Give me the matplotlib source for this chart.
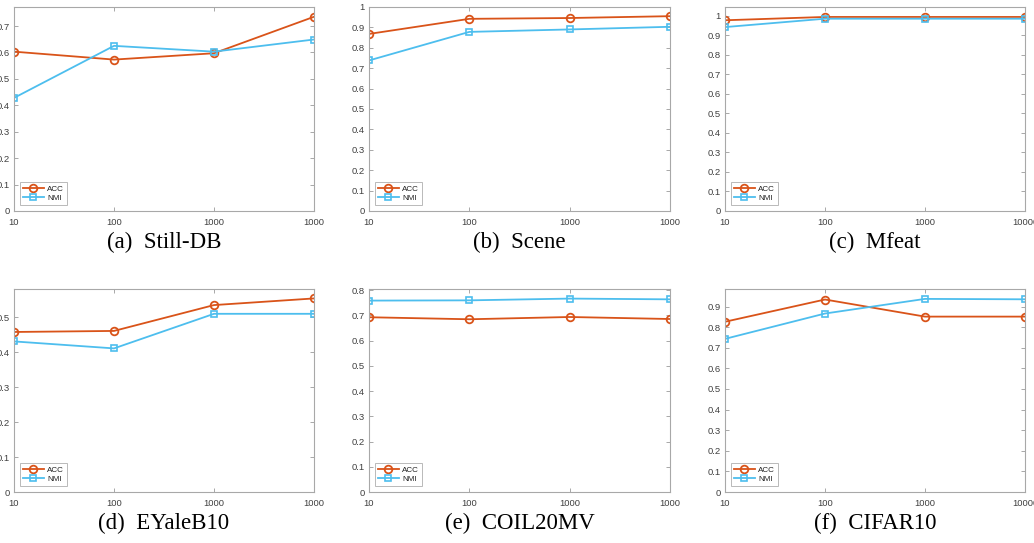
import matplotlib
matplotlib.use("Agg")
import matplotlib.pyplot as plt
from matplotlib.ticker import FixedLocator, FixedFormatter, NullLocator

# ---- data ----
x_values = [10, 100, 1000, 10000]
captions = ["(a)  Still-DB", "(b)  Scene", "(c)  Mfeat",
            "(d)  EYaleB10", "(e)  COIL20MV", "(f)  CIFAR10"]
xlabels_short = ["10", "100", "1000", "1000"]
xlabels_full = ["10", "100", "1000", "10000"]

acc_still = [0.603, 0.573, 0.597, 0.735]
nmi_still = [0.428, 0.625, 0.603, 0.649]
acc_scene = [0.868, 0.942, 0.946, 0.955]
nmi_scene = [0.738, 0.878, 0.890, 0.903]
acc_mfeat = [0.978, 0.995, 0.995, 0.995]
nmi_mfeat = [0.943, 0.986, 0.986, 0.986]
acc_eyale = [0.458, 0.461, 0.535, 0.554]
nmi_eyale = [0.431, 0.411, 0.510, 0.510]
acc_coil = [0.693, 0.685, 0.694, 0.686]
nmi_coil = [0.759, 0.760, 0.767, 0.764]
acc_cifar = [0.826, 0.934, 0.851, 0.851]
nmi_cifar = [0.743, 0.866, 0.937, 0.935]

ylims = [(0, 0.772), (0, 1.0), (0, 1.046), (0, 0.581), (0, 0.805), (0, 0.985)]
yticks = [
    [0, 0.1, 0.2, 0.3, 0.4, 0.5, 0.6, 0.7],
    [0, 0.1, 0.2, 0.3, 0.4, 0.5, 0.6, 0.7, 0.8, 0.9, 1.0],
    [0, 0.1, 0.2, 0.3, 0.4, 0.5, 0.6, 0.7, 0.8, 0.9, 1.0],
    [0, 0.1, 0.2, 0.3, 0.4, 0.5],
    [0, 0.1, 0.2, 0.3, 0.4, 0.5, 0.6, 0.7, 0.8],
    [0, 0.1, 0.2, 0.3, 0.4, 0.5, 0.6, 0.7, 0.8, 0.9],
]
accs = [acc_still, acc_scene, acc_mfeat, acc_eyale, acc_coil, acc_cifar]
nmis = [nmi_still, nmi_scene, nmi_mfeat, nmi_eyale, nmi_coil, nmi_cifar]
xlabel_sets = [xlabels_short, xlabels_short, xlabels_full,
               xlabels_short, xlabels_short, xlabels_full]

ACC_C = "#D95319"
NMI_C = "#4DBEEE"
SPINE_C = "#a8a8a8"
TICK_C = "#404040"

W, H = 1034, 543
fig = plt.figure(figsize=(W / 100, H / 100), dpi=100)

lefts = [14, 369, 725]
rights = [314, 670, 1025]
rows = [(7, 211), (289, 492)]

def fmt(v):
    if v == 0:
        return "0"
    if abs(v - 1.0) < 1e-9:
        return "1"
    return f"{v:.1f}"

for i in range(6):
    r, c = divmod(i, 3)
    top, bot = rows[r]
    ax = fig.add_axes([lefts[c] / W, 1 - bot / H, (rights[c] - lefts[c]) / W, (bot - top) / H])
    ax.set_xscale("log")
    ax.plot(x_values, accs[i], color=ACC_C, lw=1.3, marker="o", ms=5.5,
            mfc="none", mec=ACC_C, mew=1.3, label="ACC")
    ax.plot(x_values, nmis[i], color=NMI_C, lw=1.3, marker="s", ms=4.2,
            mfc="none", mec=NMI_C, mew=1.2, label="NMI")
    ax.set_xlim(10, 10000)
    ax.set_ylim(*ylims[i])
    ax.xaxis.set_major_locator(FixedLocator(x_values))
    ax.xaxis.set_major_formatter(FixedFormatter(xlabel_sets[i]))
    ax.xaxis.set_minor_locator(NullLocator())
    ax.set_yticks(yticks[i])
    ax.set_yticklabels([fmt(v) for v in yticks[i]])
    ax.tick_params(direction="in", length=3, width=0.7, colors=SPINE_C,
                   labelcolor=TICK_C, labelsize=6.8, top=True, right=True)
    ax.tick_params(axis="x", pad=5)
    ax.tick_params(axis="y", pad=3)
    for lab in ax.get_xticklabels() + ax.get_yticklabels():
        lab.set_family("Liberation Sans")
    for s in ax.spines.values():
        s.set_color(SPINE_C)
        s.set_linewidth(0.8)
    leg = ax.legend(loc="lower left", frameon=True, fancybox=False,
                    handlelength=2.6, handletextpad=0.4, borderpad=0.35,
                    labelspacing=0.2, borderaxespad=0.75,
                    prop={"family": "Liberation Sans", "size": 5.8})
    leg.get_frame().set_edgecolor(SPINE_C)
    leg.get_frame().set_linewidth(0.7)
    for t in leg.get_texts():
        t.set_color("#202020")
    cx = (lefts[c] + rights[c]) / 2 / W
    cy = 1 - (bot + 31) / H
    fig.text(cx, cy, captions[i], ha="center", va="center",
             family="Liberation Serif", fontsize=16.5, color="black")

fig.savefig("out.png", dpi=100)
